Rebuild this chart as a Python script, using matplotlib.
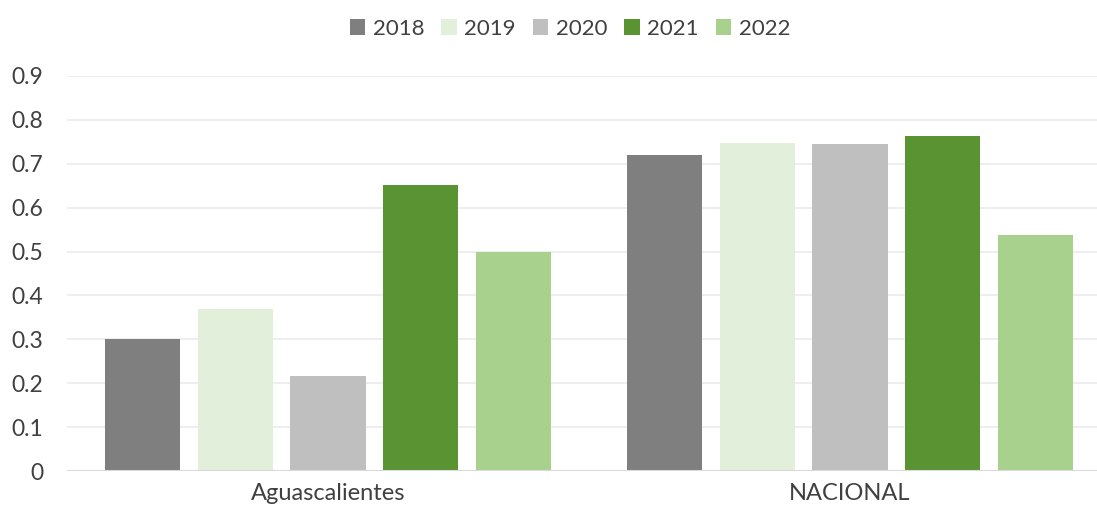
import matplotlib
matplotlib.use("Agg")
import matplotlib.pyplot as plt
import numpy as np
from matplotlib.patches import Patch


# --------------------------------------------------
# 1. DATA
# --------------------------------------------------

categories = ["Aguascalientes", "NACIONAL"]
years = ["2018", "2019", "2020", "2021", "2022"]

values_2018 = [0.30, 0.72]
values_2019 = [0.37, 0.747]
values_2020 = [0.217, 0.745]
values_2021 = [0.651, 0.763]
values_2022 = [0.499, 0.538]

series = [values_2018, values_2019, values_2020, values_2021, values_2022]
colors = ["#7F7F7F", "#E2EFDA", "#BFBFBF", "#5A9331", "#A9D18E"]

y_ticks = [0, 0.1, 0.2, 0.3, 0.4, 0.5, 0.6, 0.7, 0.8, 0.9]
y_tick_labels = ["0", "0.1", "0.2", "0.3", "0.4", "0.5", "0.6", "0.7", "0.8", "0.9"]


# --------------------------------------------------
# 2. FIGURE
# --------------------------------------------------

plt.rcParams["font.family"] = ["Lato", "DejaVu Sans"]
text_color = "#404040"

fig = plt.figure(figsize=(10.97, 5.16), dpi=100)
ax = fig.add_axes([67 / 1097, 45 / 516, 1044 / 1097, 395 / 516])

x = np.arange(len(categories))
step = 0.178
width = 0.1437

for i, vals in enumerate(series):
    ax.bar(
        x + (i - 2) * step,
        vals,
        width=width,
        color=colors[i],
        zorder=3,
    )

ax.set_xlim(-0.5, 1.5)
ax.set_ylim(0, 0.9)
ax.set_yticks(y_ticks)
ax.set_yticklabels(y_tick_labels)
ax.set_xticks(x)
ax.set_xticklabels(categories)

ax.grid(axis="y", color="#EBEBEB", linewidth=1.2, zorder=0)
ax.axhline(0, color="#D9D9D9", linewidth=1.5, zorder=4)

for side in ["top", "right", "left", "bottom"]:
    ax.spines[side].set_visible(False)

ax.tick_params(axis="both", length=0, colors=text_color)
ax.tick_params(axis="y", pad=17, labelsize=16.5)
ax.tick_params(axis="x", pad=9, labelsize=17)

handles = [Patch(facecolor=c) for c in colors]
fig.legend(
    handles,
    years,
    loc="center",
    bbox_to_anchor=(570 / 1097, 1 - 29 / 516),
    ncol=5,
    frameon=False,
    fontsize=16,
    labelcolor=text_color,
    handlelength=0.7,
    handleheight=0.7,
    handletextpad=0.35,
    columnspacing=0.75,
)

fig.savefig("out.png", dpi=100)
